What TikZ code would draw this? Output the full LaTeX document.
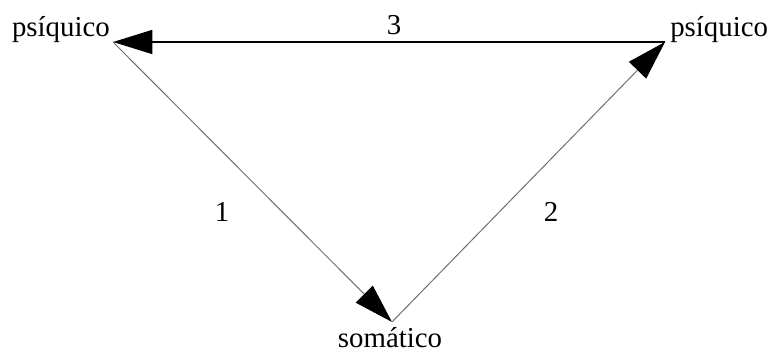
\documentclass[tikz,border=0pt]{standalone}
\usepackage{fontspec}
\setmainfont{Liberation Serif}
\usetikzlibrary{arrows.meta}
\definecolor{thingray}{RGB}{110,110,110}
\tikzset{
  term/.style      = {inner sep=0pt, font=\fontsize{20.5}{24}\selectfont},
  steplabel/.style = {inner sep=0pt, font=\fontsize{20.5}{24}\selectfont},
  main arrow/.style= {line width=1.4pt, -{Triangle[length=28pt, width=17pt]}},
  side arrow/.style= {thingray, line width=0.7pt,
                      -{Triangle[length=28pt, width=17pt, color=black]}},
}

\begin{document}
\begin{tikzpicture}[x=0.025cm, y=-0.025cm]
  \useasboundingbox (0,0) rectangle (776,354);

  % ── corners of the triangle ─────────────────────────────────────────
  \coordinate (left)   at (113, 42);
  \coordinate (right)  at (665, 42);
  \coordinate (bottom) at (392, 322);

  % ── terms ──────────────────────────────────────────────────────────
  \node[term, anchor=base east] (psiL) at (110, 37) {psíquico};
  \node[term, anchor=base west] (psiR) at (670, 37) {psíquico};
  \node[term, anchor=base]      (soma) at (390, 347) {somático};

  % ── arrows ─────────────────────────────────────────────────────────
  \draw[main arrow] (right) -- (left);
  \draw[side arrow] (left) -- (bottom);
  \draw[side arrow] (bottom) -- (right);

  % ── step numbers ───────────────────────────────────────────────────
  \node[steplabel] (n3) at (394, 25)  {3};
  \node[steplabel] (n1) at (222, 212) {1};
  \node[steplabel] (n2) at (551, 212) {2};

\end{tikzpicture}
\end{document}
